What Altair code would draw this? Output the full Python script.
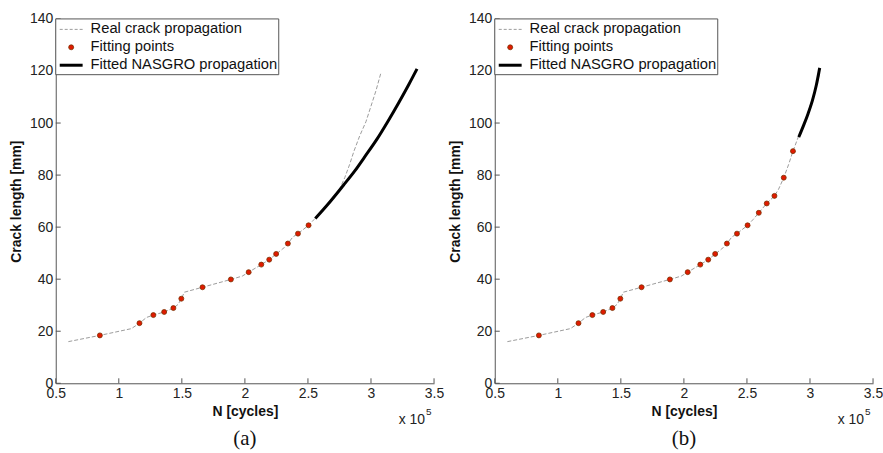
import altair as alt
import pandas as pd

# ---------------- data ----------------
SERIES = ["Real crack propagation", "Fitting points", "Fitted NASGRO propagation"]

x_ticks = [0.5, 1, 1.5, 2, 2.5, 3, 3.5]
y_ticks = [0, 20, 40, 60, 80, 100, 120, 140]

real_n = [0.60, 0.85, 1.10, 1.164, 1.22, 1.274, 1.36, 1.433, 1.47, 1.496, 1.52, 1.664,
          1.889, 1.98, 2.03, 2.13, 2.193, 2.248, 2.30, 2.341, 2.38, 2.421, 2.505, 2.55,
          2.594, 2.657, 2.718, 2.75, 2.792, 2.83, 2.865, 2.91, 2.96, 3.00, 3.04, 3.08]
real_len = [16.0, 18.4, 21.0, 23.1, 25.3, 26.2, 27.4, 28.9, 30.3, 32.5, 35.0, 36.9,
            39.9, 41.2, 42.7, 45.6, 47.5, 49.7, 51.6, 53.7, 56.2, 57.5, 60.7, 63.0,
            65.5, 69.1, 72.0, 74.5, 79.0, 84.0, 89.2, 95.0, 100.5, 106.5, 112.5, 119.5]

fit_n_a = [0.850, 1.164, 1.274, 1.360, 1.433, 1.496, 1.664, 1.889, 2.030, 2.130,
           2.193, 2.248, 2.341, 2.421, 2.505]
fit_len_a = [18.4, 23.1, 26.2, 27.4, 28.9, 32.5, 36.9, 39.9, 42.7, 45.6,
             47.5, 49.7, 53.7, 57.5, 60.7]

fit_n_b = fit_n_a + [2.594, 2.657, 2.718, 2.792, 2.865]
fit_len_b = fit_len_a + [65.5, 69.1, 72.0, 79.0, 89.2]

nasgro_n_a = [2.558, 2.65, 2.78, 2.87, 2.95, 3.05, 3.136, 3.22, 3.30, 3.365]
nasgro_len_a = [63.3, 68.3, 76.0, 81.5, 87.0, 94.0, 100.8, 107.8, 114.8, 120.8]

nasgro_n_b = [2.911, 2.95, 2.984, 3.02, 3.05, 3.077]
nasgro_len_b = [94.6, 99.2, 103.5, 108.8, 114.5, 121.2]

captions = ["(a)", "(b)"]

# ---------------- style ----------------
W, H = 380, 366
FONT = "Liberation Sans"
SERIF = "Liberation Serif"
C_REAL, C_PTS, C_NAS = "#9b9b9b", "#e01a00", "#000000"
PT_EDGE = "#7a3000"
AXIS_C = "#555555"
TXT_C = "#222222"

LEG_W, LEG_H = 224, 56
ROW_Y = [10.5, 28.5, 46.5]
SYM_X0, SYM_X1, TXT_X = 4, 27, 35


def x_enc(field="n"):
    return alt.X(f"{field}:Q", scale=alt.Scale(domain=[0.5, 3.5], nice=False, zero=False),
                 axis=alt.Axis(values=x_ticks, format="~g", title="N [cycles]",
                               labelPadding=3, titlePadding=4, labelFlush=False,
                               labelOverlap=False))


def y_enc(field="len"):
    return alt.Y(f"{field}:Q", scale=alt.Scale(domain=[0, 140], nice=False),
                 axis=alt.Axis(values=y_ticks, format="d", title="Crack length [mm]",
                               labelPadding=3, titlePadding=6, labelOverlap=False))


def one(label):
    return pd.DataFrame({"s": [label]})


def text_layer(label, x, y, size=14, font=FONT, align="left", color=TXT_C):
    return alt.Chart(one(label)).mark_text(
        font=font, fontSize=size, color=color, align=align, baseline="middle").encode(
        text="s:N", x=alt.value(x), y=alt.value(y))


def legend_layers():
    box = alt.Chart(one("legend")).mark_rect(fill="white", stroke=AXIS_C, strokeWidth=1).encode(
        x=alt.value(0), x2=alt.value(LEG_W), y=alt.value(0), y2=alt.value(LEG_H))
    s_real = alt.Chart(one(SERIES[0])).mark_rule(color=C_REAL, strokeWidth=1,
                                                 strokeDash=[3, 2]).encode(
        x=alt.value(SYM_X0), x2=alt.value(SYM_X1), y=alt.value(ROW_Y[0]))
    s_pts = alt.Chart(one(SERIES[1])).mark_point(filled=True, size=25, color=C_PTS,
                                                 stroke=PT_EDGE, strokeWidth=0.8,
                                                 opacity=1).encode(
        x=alt.value((SYM_X0 + SYM_X1) / 2), y=alt.value(ROW_Y[1]))
    s_nas = alt.Chart(one(SERIES[2])).mark_rule(color=C_NAS, strokeWidth=3).encode(
        x=alt.value(SYM_X0), x2=alt.value(SYM_X1), y=alt.value(ROW_Y[2]))
    texts = [text_layer(SERIES[i], TXT_X, ROW_Y[i], size=14.8, color="#111111")
             for i in range(3)]
    return [box, s_real, s_pts, s_nas] + texts


def panel(fit_n, fit_len, nas_n, nas_len, caption):
    real_df = pd.DataFrame({"n": real_n, "len": real_len})
    pts_df = pd.DataFrame({"n": fit_n, "len": fit_len})
    nas_df = pd.DataFrame({"n": nas_n, "len": nas_len})

    real = alt.Chart(real_df).mark_line(strokeDash=[4, 2], strokeWidth=1, color=C_REAL).encode(
        x=x_enc(), y=y_enc())
    nas = alt.Chart(nas_df).mark_line(strokeWidth=3, color=C_NAS,
                                      interpolate="monotone").encode(
        x=x_enc(), y=y_enc())
    pts = alt.Chart(pts_df).mark_point(filled=True, size=25, color=C_PTS, stroke=PT_EDGE,
                                       strokeWidth=0.8, opacity=1).encode(
        x=x_enc(), y=y_enc())

    xt = alt.Chart(pd.DataFrame({"n": x_ticks})).mark_rule(color=AXIS_C, strokeWidth=1).encode(
        x=x_enc(), y=alt.value(H), y2=alt.value(H - 5))
    yt = alt.Chart(pd.DataFrame({"len": y_ticks})).mark_rule(color=AXIS_C, strokeWidth=1).encode(
        y=y_enc(), x=alt.value(0), x2=alt.value(5))

    mult = text_layer("x 10", W - 9, H + 37, align="right")
    sup = text_layer("5", W - 8, H + 29, size=10)
    cap = text_layer(caption, W / 2, H + 56, size=21, font=SERIF, align="center",
                     color="#111111")

    layers = [real, nas, pts, xt, yt] + legend_layers() + [mult, sup, cap]
    return alt.layer(*layers).properties(width=W, height=H)


left = panel(fit_n_a, fit_len_a, nasgro_n_a, nasgro_len_a, captions[0])
right = panel(fit_n_b, fit_len_b, nasgro_n_b, nasgro_len_b, captions[1])

chart = alt.hconcat(left, right, spacing=61, bounds="flush").properties(
    padding={"left": 9, "top": 11, "right": 0, "bottom": 0},
    background="white",
).configure_axis(
    domainColor=AXIS_C, domainWidth=1, ticks=False, grid=False,
    labelFont=FONT, labelFontSize=14, labelColor=TXT_C,
    titleFont=FONT, titleFontSize=14, titleFontWeight="bold", titleColor="#111111",
).configure_view(stroke=None)

chart.save("out.html", embed_options={"renderer": "svg", "actions": False})
